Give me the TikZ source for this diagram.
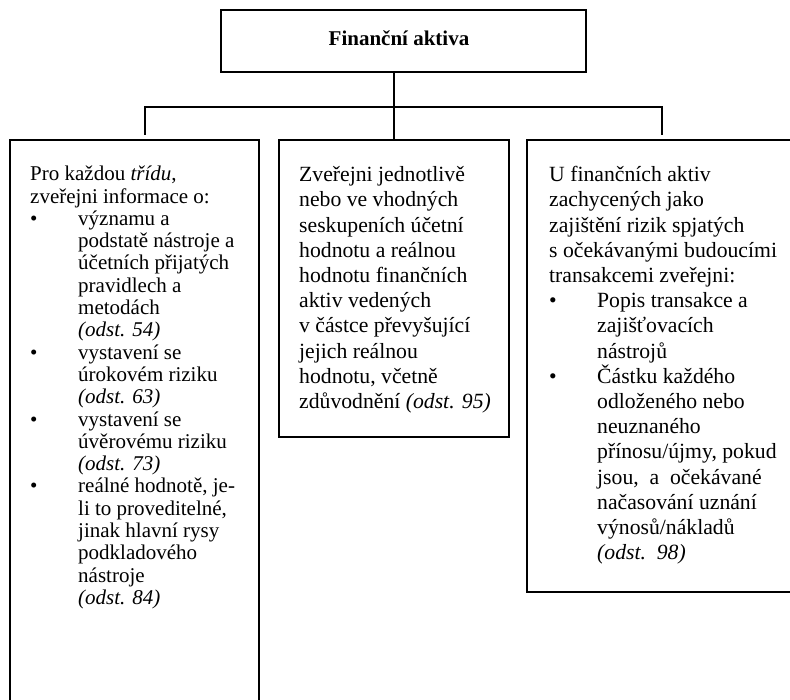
\documentclass[tikz,border=0pt]{standalone}
\usepackage{fontspec}
\setmainfont{Liberation Serif}
\newcommand{\itmL}{\makebox[48pt][l]{\textbullet}}
\newcommand{\indL}{\hspace*{48pt}}
\newcommand{\itmR}{\makebox[48pt][l]{\textbullet}}
\newcommand{\indR}{\hspace*{48pt}}
\begin{document}
\begin{tikzpicture}[x=1pt,y=-1pt,
  box/.style={draw, line width=1.4pt, inner sep=0pt, rectangle},
  link/.style={line width=1.3pt},
  txtL/.style={anchor=north west, inner sep=0pt, align=left, font=\fontsize{21}{22.3}\selectfont},
  txt/.style={anchor=north west, inner sep=0pt, align=left, font=\fontsize{21.7}{25.2}\selectfont}]
\useasboundingbox (0,0) rectangle (790,700);
\clip (0,0) rectangle (790,700);
\fill[white] (0,0) rectangle (790,700);
% boxes
\node[box, minimum width=365pt, minimum height=62pt] (top) at (403.5,41) {};
\node[box, minimum width=249pt, minimum height=580pt] (left) at (134.5,430) {};
\node[box, minimum width=230pt, minimum height=297pt] (mid) at (394,288.5) {};
\node[box, minimum width=268pt, minimum height=452pt] (right) at (661,366) {};
% title
\node[font=\bfseries\fontsize{21}{24}\selectfont, anchor=base, inner sep=0pt] (title) at (399,46) {Finanční aktiva};
% connectors
\coordinate (j) at (394,107);
\coordinate (dl) at (145,135);
\coordinate (dr) at (662,135);
\draw[link] (top.south -| mid.north) -- (mid.north);
\draw[link] (dl) -- (dl |- j) -- (dr |- j) -- (dr);
% texts
\node[txtL] (ltext) at (30,164.9) {\strut Pro každou \textit{třídu},\\
zveřejni informace o:\\
\itmL významu a\\
\indL podstatě nástroje a\\
\indL účetních přijatých\\
\indL pravidlech a\\
\indL metodách\\
\indL \textit{(odst. 54)}\\
\itmL vystavení se\\
\indL úrokovém riziku\\
\indL \textit{(odst. 63)}\\
\itmL vystavení se\\
\indL úvěrovému riziku\\
\indL \textit{(odst. 73)}\\
\itmL reálné hodnotě, je-\\
\indL li to proveditelné,\\
\indL jinak hlavní rysy\\
\indL podkladového\\
\indL nástroje\\
\indL \textit{(odst. 84)}};
\node[txt] (mtext) at (299,163.9) {\strut Zveřejni jednotlivě\\
nebo ve vhodných\\
seskupeních účetní\\
hodnotu a reálnou\\
hodnotu finančních\\
aktiv vedených\\
v částce převyšující\\
jejich reálnou\\
hodnotu, včetně\\
zdůvodnění \textit{(odst. 95)}};
\node[txt] (rtext) at (549,163.9) {\strut U finančních aktiv\\
zachycených jako\\
zajištění rizik spjatých\\
s očekávanými budoucími\\
transakcemi zveřejni:\\
\itmR Popis transakce a\\
\indR zajišťovacích\\
\indR nástrojů\\
\itmR Částku každého\\
\indR odloženého nebo\\
\indR neuznaného\\
\indR přínosu/újmy, pokud\\
\indR jsou,\ \ a\ \ očekávané\\
\indR načasování uznání\\
\indR výnosů/nákladů\\
\indR \textit{(odst.\ \ 98)}};
\end{tikzpicture}
\end{document}
